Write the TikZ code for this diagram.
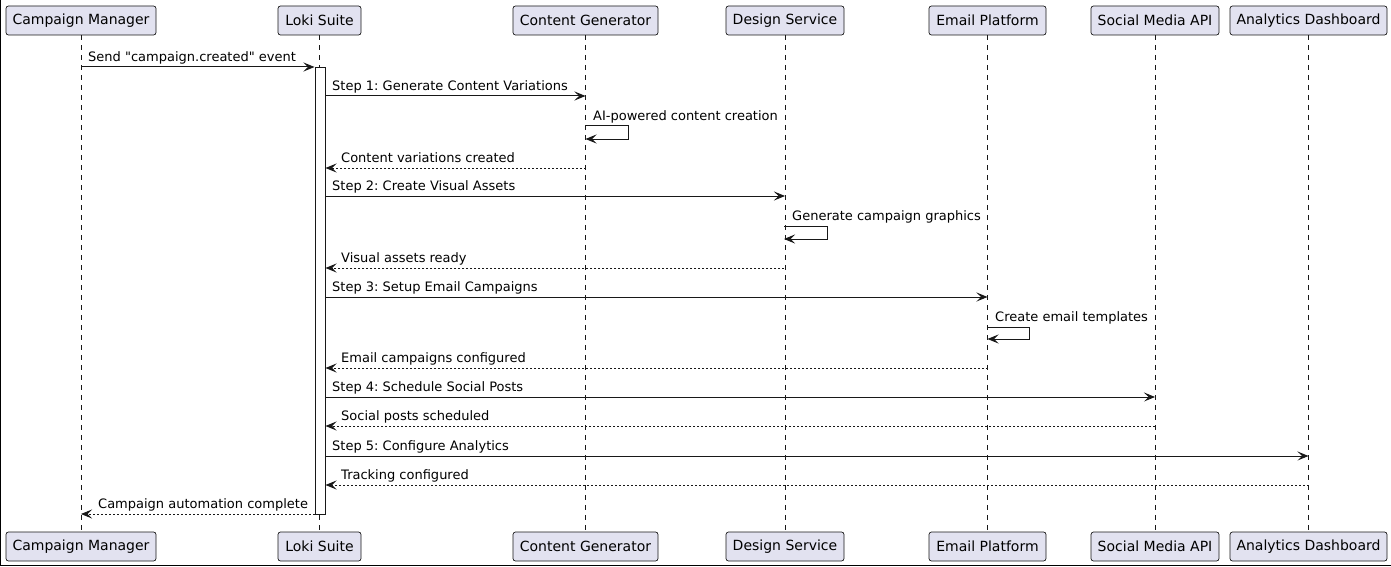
\documentclass[tikz,border=0pt]{standalone}
\usepackage{fontspec}
\setmainfont{DejaVu Sans}[Ligatures=TeXOff]
\usetikzlibrary{arrows.meta}
\definecolor{boxfill}{HTML}{E2E2F0}
\definecolor{ink}{HTML}{181818}
\tikzset{
  part/.style={draw=ink, fill=boxfill, line width=0.7pt, rounded corners=2.5pt,
    minimum height=29, inner sep=0pt, font=\fontsize{14}{16}\selectfont, text=black},
  lifeline/.style={draw=ink, line width=0.7pt, dash pattern=on 5pt off 5pt},
  actbar/.style={draw=ink, fill=white, line width=1pt, minimum width=10, inner sep=0pt, anchor=north},
  msg/.style={draw=ink, line width=1pt, -{Stealth[length=11pt,width=9pt,inset=4.5pt]}},
  ret/.style={msg, dash pattern=on 2pt off 2pt},
  lbl/.style={anchor=base west, inner sep=0pt, font=\fontsize{13}{15}\selectfont, text=black},
}
\begin{document}
\frenchspacing
\begin{tikzpicture}[x=1pt,y=-1pt]
\path[use as bounding box, fill=white] (0,0) rectangle (1391,567);
\draw[line width=1pt, black] (0.5,0) -- (0.5,565.5) -- (1391,565.5);
% participants top
\node[part, minimum width=150] (cmT) at (81,20.5) {Campaign Manager};
\node[part, minimum width=83] (lkT) at (319.5,20.5) {Loki Suite};
\node[part, minimum width=145] (cgT) at (585.5,20.5) {Content Generator};
\node[part, minimum width=118] (dsT) at (785,20.5) {Design Service};
\node[part, minimum width=117] (epT) at (987.5,20.5) {Email Platform};
\node[part, minimum width=128] (smT) at (1155,20.5) {Social Media API};
\node[part, minimum width=157] (adT) at (1308.5,20.5) {Analytics Dashboard};
% participants bottom
\node[part, minimum width=150] (cmB) at (81,546.5) {Campaign Manager};
\node[part, minimum width=83] (lkB) at (319.5,546.5) {Loki Suite};
\node[part, minimum width=145] (cgB) at (585.5,546.5) {Content Generator};
\node[part, minimum width=118] (dsB) at (785,546.5) {Design Service};
\node[part, minimum width=117] (epB) at (987.5,546.5) {Email Platform};
\node[part, minimum width=128] (smB) at (1155,546.5) {Social Media API};
\node[part, minimum width=157] (adB) at (1308.5,546.5) {Analytics Dashboard};
% lifelines
\foreach \p in {cm,lk,cg,ds,ep,sm,ad}{
  \draw[lifeline] (\p T.south) -- (\p B.north);
}
% activation bar
\node[actbar, minimum height=447] (act) at (320,67) {};
% messages
\draw[msg] (cmT |- 0,67) -- (act.west |- 0,67);
\node[lbl] (t1) at (88,61.5) {Send "campaign.created" event};

\draw[msg] (act.east |- 0,96) -- (cgT |- 0,96);
\node[lbl] (t2) at (332,90.5) {Step 1: Generate Content Variations};

\coordinate (s1a) at (cgT |- 0,126);
\coordinate (s1b) at (cgT |- 0,139);
\draw[msg] (s1a) -- ++(43,0) -- ++(0,13) -- (s1b);
\node[lbl] (t3) at (593,120.5) {AI-powered content creation};

\draw[ret] (cgT |- 0,168) -- (act.east |- 0,168);
\node[lbl] (t4) at (341,162.5) {Content variations created};

\draw[msg] (act.east |- 0,196) -- (dsT |- 0,196);
\node[lbl] (t5) at (332,190.5) {Step 2: Create Visual Assets};

\coordinate (s2a) at (784,226);
\coordinate (s2b) at (784,239);
\draw[msg] (s2a) -- ++(43,0) -- ++(0,13) -- (s2b);
\node[lbl] (t6) at (792,220.5) {Generate campaign graphics};

\draw[ret] (s2a |- 0,268) -- (act.east |- 0,268);
\node[lbl] (t7) at (341,262.5) {Visual assets ready};

\draw[msg] (act.east |- 0,297) -- (epT |- 0,297);
\node[lbl] (t8) at (332,291.5) {Step 3: Setup Email Campaigns};

\coordinate (s3a) at (epT |- 0,327);
\coordinate (s3b) at (epT |- 0,339);
\draw[msg] (s3a) -- ++(42,0) -- ++(0,12) -- (s3b);
\node[lbl] (t9) at (995,321.5) {Create email templates};

\draw[ret] (epT |- 0,368) -- (act.east |- 0,368);
\node[lbl] (t10) at (341,362.5) {Email campaigns configured};

\draw[msg] (act.east |- 0,397) -- (smT |- 0,397);
\node[lbl] (t11) at (332,391.5) {Step 4: Schedule Social Posts};

\draw[ret] (smT |- 0,426) -- (act.east |- 0,426);
\node[lbl] (t12) at (341,420.5) {Social posts scheduled};

\draw[msg] (act.east |- 0,456) -- (adT |- 0,456);
\node[lbl] (t13) at (332,450.5) {Step 5: Configure Analytics};

\draw[ret] (adT |- 0,485) -- (act.east |- 0,485);
\node[lbl] (t14) at (341,479.5) {Tracking configured};

\draw[ret] (act.west |- 0,514) -- (cmT |- 0,514);
\node[lbl] (t15) at (98,508.5) {Campaign automation complete};
\end{tikzpicture}
\end{document}
